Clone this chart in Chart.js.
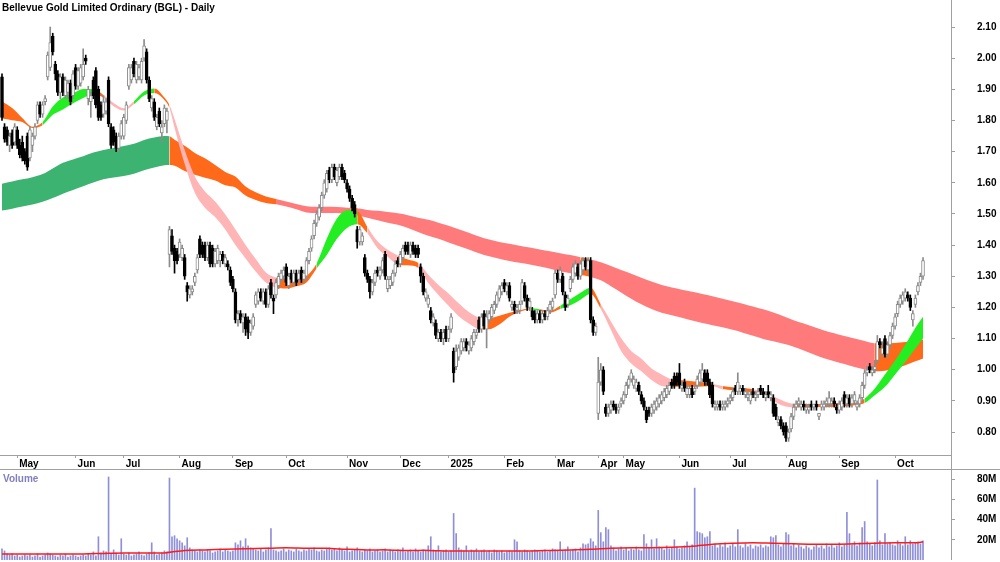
<!DOCTYPE html>
<html>
<head>
<meta charset="utf-8">
<script src="https://cdn.jsdelivr.net/npm/chart.js@4.4.1/dist/chart.umd.min.js"></script>
<style>
  html, body { margin:0; padding:0; background:#fff; }
  #stage { position:relative; width:1000px; height:562px; overflow:hidden; background:#fff; }
  canvas { position:absolute; left:0; }
  #priceCanvas { top:0; }
  #volCanvas { top:470px; }
  .lbl { position:absolute; white-space:nowrap; font-weight:bold; }
  #title { left:2px; color:#000; }
  #volTitle { left:3px; color:#8080c0; }
  .rule { position:absolute; background:#a0a0a0; }
</style>
</head>
<body>
<div id="stage">
  <canvas id="priceCanvas" width="1000" height="470"></canvas>
  <canvas id="volCanvas" width="1000" height="90"></canvas>
  <div class="rule" style="left:0;top:469px;width:1000px;height:1px"></div>
  <div class="rule" style="left:951px;top:455px;width:1px;height:15px"></div>
  <div id="title" class="lbl"></div>
  <div id="volTitle" class="lbl"></div>
</div>
<script>
// ---------------- DATA ----------------
const chartTitle = 'Bellevue Gold Limited Ordinary (BGL) - Daily';
const volumeTitle = 'Volume';
const monthLabels = ['May','Jun','Jul','Aug','Sep','Oct','Nov','Dec','2025','Feb','Mar','Apr','May','Jun','Jul','Aug','Sep','Oct'];
const monthIdx = [6,29,48,70,91,112,136,157,176,198,218,235,245,267,287,309,330,352];
const priceTicks = [0.8,0.9,1.0,1.1,1.2,1.3,1.4,1.5,1.6,1.7,1.8,1.9,2.0,2.1];
const volTicks = [20,40,60,80];

// daily OHLC in cents, one entry per trading day
const opens = [
194,178,177,172,176,173,177,172,173,170,
175,168,172,175,180,185,182,186,194,197,
207,198,195,189,194,188,189,192,188,197,
191,192,194,200,187,186,193,196,190,185,
182,183,193,178,177,175,171,175,175,180,
191,193,199,193,194,193,200,202,193,184,
186,178,183,176,179,180,137,143,139,138,
137,136,136,127,124,125,128,132,142,140,
140,136,140,139,134,135,135,137,134,134,
132,129,125,116,118,115,117,116,112,114,
121,122,125,122,125,121,128,123,124,127,
129,130,133,127,131,128,131,129,132,129,
130,135,139,143,147,149,152,156,158,164,
161,165,160,162,165,163,160,158,155,153,
145,141,141,136,131,129,125,128,132,130,
132,137,126,127,128,131,135,134,136,140,
140,137,140,139,139,133,130,123,121,119,
115,115,110,112,110,113,110,113,106,101,
104,106,107,109,106,107,109,111,116,113,
118,113,116,117,119,121,123,125,128,125,
127,120,121,119,119,122,127,123,120,119,
118,116,118,116,118,117,119,120,124,131,
129,130,124,121,126,129,131,133,130,132,
135,132,135,116,112,86,96,100,88,86,
87,89,88,87,89,90,92,95,97,95,
94,95,92,90,87,87,86,87,88,89,
90,91,92,93,96,98,98,99,94,96,
92,92,94,93,95,96,97,99,99,96,
95,88,88,89,88,88,89,90,91,94,
93,93,94,92,91,90,93,91,92,94,
93,91,93,91,91,88,83,84,82,82,
78,81,85,88,89,88,89,87,87,89,
88,89,85,88,88,89,89,89,90,88,
87,88,92,89,91,89,90,88,89,91,
95,99,101,99,100,103,109,105,110,105,
108,111,114,118,121,122,123,124,123,116,
121,125,128,130];
const highs = [
195,179,178,176,177,179,178,174,175,171,
176,178,176,179,186,186,186,188,202,210,
208,199,196,195,195,194,193,193,196,198,
197,198,203,201,191,189,194,197,191,186,
188,187,194,179,178,176,176,180,182,186,
198,198,200,199,198,200,206,203,194,188,
187,182,184,180,185,184,146,145,140,139,
142,140,137,128,127,127,131,137,143,141,
141,141,141,140,139,140,138,138,137,135,
133,130,126,119,119,118,118,117,116,118,
125,126,126,126,126,127,129,124,129,131,
132,133,134,131,132,132,132,132,133,132,
136,139,143,148,151,153,157,161,164,165,
166,166,165,166,166,164,161,159,156,154,
146,146,144,137,132,130,129,132,133,133,
136,138,130,130,132,135,136,138,140,141,
141,141,141,140,140,134,131,126,124,120,
118,116,113,113,113,114,114,118,107,108,
108,110,110,110,109,111,113,113,117,118,
119,119,119,121,122,125,127,128,129,128,
128,122,122,121,122,129,128,124,123,120,
119,119,119,119,119,120,122,123,132,132,
133,131,125,124,130,134,135,134,135,136,
136,136,136,117,115,104,102,101,89,89,
90,90,89,89,91,93,96,98,100,98,
97,96,93,91,88,88,89,90,91,92,
93,94,95,96,97,99,99,102,96,97,
95,95,95,95,98,100,102,100,100,97,
96,90,90,90,90,90,91,92,94,95,
99,95,95,94,93,93,94,93,94,95,
94,93,95,93,92,89,85,85,83,83,
81,86,89,90,91,90,90,89,89,90,
89,90,86,90,90,91,93,91,91,89,
90,91,93,92,92,92,93,90,92,96,
100,101,102,101,103,111,110,109,111,109,
112,115,118,122,124,125,126,125,124,119,
124,128,131,136];
const lows = [
180,173,172,170,171,172,171,168,167,166,
164,167,170,174,179,181,181,185,193,196,
201,193,188,187,188,187,187,185,187,190,
190,191,193,198,185,181,187,184,180,180,
181,182,178,171,172,170,170,174,174,179,
190,192,194,192,193,192,199,192,186,183,
180,177,178,173,178,176,133,137,131,134,
136,135,129,122,123,124,127,131,136,136,
135,135,133,133,133,134,133,134,133,132,
127,125,115,114,115,112,111,110,111,113,
120,121,122,121,120,120,123,118,123,126,
128,129,127,126,128,127,127,128,128,128,
129,134,138,142,146,148,151,155,157,160,
160,161,159,161,161,160,157,154,151,149,
139,140,140,130,128,123,124,127,130,129,
131,129,125,126,127,130,133,133,135,137,
137,136,137,136,136,128,124,122,120,115,
114,110,109,109,108,109,109,112,96,100,
103,105,106,106,105,106,108,110,112,112,
113,107,115,116,118,120,122,124,125,124,
122,119,118,118,118,121,122,119,119,116,
115,115,115,115,116,116,118,119,123,128,
128,124,119,120,125,128,130,129,129,131,
132,131,115,111,111,84,95,92,85,85,
86,87,86,86,88,89,91,94,96,94,
93,92,89,87,83,85,85,86,87,88,
89,90,91,92,94,94,95,94,93,93,
91,91,91,92,94,95,96,95,95,91,
88,87,87,87,87,87,88,89,90,92,
92,92,92,91,90,89,91,90,91,92,
91,90,91,90,85,84,82,81,79,77,
77,80,84,87,88,87,87,86,86,87,
87,87,84,87,87,88,88,88,88,86,
86,87,88,88,88,88,89,87,88,90,
94,98,99,98,99,102,107,104,104,104,
107,110,113,117,120,121,122,122,119,114,
120,124,127,129];
const closes = [
181,174,173,175,172,178,172,169,168,167,
165,177,175,178,185,182,185,187,201,205,
202,195,189,194,189,193,192,186,195,191,
196,197,198,199,190,188,188,185,181,181,
186,186,179,172,173,171,175,179,181,185,
197,197,195,198,197,199,204,193,187,187,
181,181,179,178,184,183,145,138,135,135,
141,139,130,125,126,126,130,136,137,137,
136,140,134,134,138,139,137,135,136,133,
128,126,116,118,116,117,113,112,115,117,
124,125,123,125,121,126,124,122,128,130,
131,132,128,130,129,131,128,131,129,131,
135,138,142,147,150,152,156,160,163,161,
165,162,164,165,162,161,158,155,152,150,
141,145,143,131,129,125,128,131,131,132,
135,130,129,129,131,134,134,137,139,138,
138,140,138,137,137,130,125,125,123,116,
117,111,112,110,112,110,113,117,99,106,
107,109,109,107,108,110,112,112,113,117,
114,117,118,120,121,124,126,127,126,127,
123,121,119,120,121,128,123,120,122,117,
116,118,116,118,117,119,121,122,131,129,
132,125,120,123,129,133,134,130,134,135,
133,135,116,112,114,96,100,93,86,88,
89,88,87,88,90,92,95,97,99,97,
96,93,90,88,84,86,88,89,90,91,
92,93,94,95,95,95,96,95,95,94,
94,94,92,94,97,99,100,96,96,92,
89,89,89,88,89,89,90,91,93,93,
96,94,93,93,92,92,92,92,93,93,
92,92,92,92,86,85,84,82,80,78,
80,85,88,89,90,89,88,88,88,88,
89,88,86,89,89,90,91,90,89,87,
89,90,89,91,89,91,92,89,91,95,
99,100,100,100,101,109,108,107,105,108,
111,114,117,121,123,124,125,123,120,118,
123,127,130,135];

// daily volume, millions of shares
const volume = [
11,9,6,5,6,4,5,3,4,5,
4,5,3,4,6,3,4,5,7,6,
5,4,3,5,4,6,3,4,5,4,
3,4,5,4,6,5,8,4,23,7,
9,8,82,6,10,7,5,21,6,5,
7,4,5,6,8,5,4,6,7,17,
8,5,6,7,9,8,81,23,24,21,
19,17,14,22,12,10,9,8,10,9,
8,10,9,7,8,9,11,8,10,9,
8,9,17,15,19,13,21,14,12,11,
10,9,11,8,10,12,31,10,9,8,
9,11,8,10,9,8,11,9,8,10,
9,11,10,12,9,8,10,9,11,12,
10,11,9,12,10,9,13,8,9,10,
12,9,8,10,9,11,8,9,10,8,
9,11,8,10,9,8,10,9,12,8,
9,10,8,11,9,8,10,9,14,23,
10,9,14,8,9,10,8,9,46,26,
12,10,9,14,8,10,9,11,8,9,
10,8,9,7,10,9,8,9,7,8,
9,8,20,18,9,8,10,9,8,9,
10,9,8,9,10,8,9,11,10,9,
18,9,10,13,9,10,11,8,12,16,
15,16,21,18,14,49,27,18,32,30,
14,12,9,11,13,10,12,9,11,10,
13,10,9,25,16,12,20,11,21,13,
12,10,14,11,12,20,13,11,12,14,
18,13,15,71,28,27,26,22,23,28,
14,16,12,15,13,17,12,14,16,13,
30,14,12,16,13,15,11,14,13,15,
12,14,13,23,22,24,15,13,16,27,
25,14,16,12,15,13,11,14,12,10,
13,15,12,14,11,16,13,15,12,14,
17,13,15,47,26,15,18,14,17,32,
38,18,16,14,17,79,19,15,26,16,
17,15,14,19,16,14,23,15,19,16,
17,18,16,19];

// volume moving average (millions), read at these trading-day indices
const volMaIdx = [0,8,16,24,32,40,48,56,64,72,80,88,96,104,112,120,128,136,144,152,160,168,176,184,192,200,208,216,224,232,240,248,256,264,272,280,288,296,304,312,320,328,336,344,352,360,363];
const volMa = [6,6,6,6,6,6.5,7,7,7,9.5,10,10.5,11,11.5,12,11.5,11.5,10.5,10,10,9.5,9.5,9,9,9,9,9,9.5,10,10.5,11.5,12,12,12.5,13.5,15.5,16.5,17,16.5,16,15.5,15.5,16,16.5,17,17,18];

// moving-average ribbons (upper / lower edge), read at these trading-day indices
const bandIdx = [0,4,8,12,16,20,24,28,32,36,
 40,44,48,52,56,60,64,66,68,72,
 76,80,84,88,92,96,100,104,108,112,
 116,120,124,128,132,136,140,144,148,152,
 156,160,164,168,172,176,180,184,188,192,
 196,200,204,208,212,216,220,224,228,232,
 236,240,244,248,252,256,260,264,268,272,
 276,280,284,288,292,296,300,304,308,312,
 316,320,324,328,332,336,340,344,348,352,
 356,360,363];
const longHi = [1.597,1.604,1.611,1.618,1.628,1.646,1.664,1.675,1.685,1.697,
 1.705,1.712,1.718,1.725,1.737,1.745,1.750,1.749,1.738,1.719,
 1.696,1.679,1.657,1.635,1.620,1.588,1.570,1.556,1.548,1.540,
 1.532,1.525,1.523,1.523,1.522,1.520,1.518,1.513,1.510,1.506,
 1.502,1.496,1.488,1.481,1.472,1.462,1.451,1.440,1.428,1.418,
 1.410,1.404,1.398,1.392,1.386,1.380,1.374,1.368,1.361,1.354,
 1.345,1.333,1.320,1.308,1.295,1.283,1.272,1.264,1.257,1.250,
 1.243,1.236,1.228,1.220,1.212,1.203,1.194,1.184,1.172,1.159,
 1.148,1.137,1.126,1.117,1.108,1.100,1.092,1.085,1.085,1.086,
 1.089,1.094,1.097];
const longLo = [1.511,1.517,1.524,1.530,1.539,1.551,1.565,1.577,1.589,1.601,
 1.611,1.617,1.622,1.629,1.640,1.649,1.656,1.657,1.655,1.638,
 1.626,1.616,1.607,1.592,1.585,1.559,1.545,1.535,1.531,1.524,
 1.515,1.505,1.503,1.503,1.503,1.499,1.495,1.488,1.480,1.472,
 1.465,1.455,1.442,1.430,1.420,1.408,1.397,1.386,1.374,1.364,
 1.356,1.349,1.343,1.338,1.331,1.324,1.316,1.310,1.304,1.298,
 1.287,1.268,1.248,1.228,1.210,1.195,1.183,1.175,1.167,1.158,
 1.150,1.143,1.136,1.128,1.119,1.109,1.099,1.091,1.083,1.074,
 1.062,1.049,1.037,1.027,1.018,1.009,1.001,0.995,0.997,1.003,
 1.014,1.027,1.036];
const shortHi = [1.861,1.840,1.808,1.780,1.795,1.845,1.874,1.887,1.901,1.900,
 1.882,1.856,1.839,1.862,1.893,1.903,1.874,1.850,1.805,1.705,
 1.620,1.572,1.540,1.498,1.450,1.400,1.355,1.312,1.296,1.292,
 1.295,1.302,1.341,1.420,1.485,1.512,1.510,1.458,1.412,1.385,
 1.367,1.354,1.343,1.305,1.272,1.245,1.213,1.185,1.168,1.166,
 1.173,1.183,1.190,1.197,1.194,1.189,1.205,1.226,1.247,1.263,
 1.210,1.155,1.102,1.060,1.035,1.004,0.985,0.969,0.966,0.963,
 0.960,0.954,0.948,0.944,0.941,0.937,0.928,0.915,0.900,0.891,
 0.890,0.890,0.891,0.892,0.892,0.893,0.908,0.940,0.985,1.030,
 1.080,1.135,1.170];
const shortLo = [1.806,1.801,1.795,1.776,1.785,1.818,1.835,1.855,1.872,1.884,
 1.873,1.846,1.832,1.852,1.880,1.888,1.866,1.840,1.777,1.660,
 1.568,1.520,1.490,1.450,1.400,1.357,1.315,1.280,1.264,1.261,
 1.268,1.280,1.325,1.368,1.420,1.455,1.467,1.438,1.390,1.363,
 1.338,1.335,1.327,1.278,1.240,1.205,1.172,1.148,1.131,1.130,
 1.145,1.170,1.185,1.193,1.189,1.183,1.195,1.207,1.225,1.243,
 1.195,1.128,1.060,1.020,0.995,0.967,0.948,0.945,0.945,0.945,
 0.946,0.948,0.937,0.934,0.931,0.927,0.917,0.900,0.884,0.879,
 0.880,0.880,0.880,0.881,0.883,0.886,0.893,0.918,0.945,0.985,
 1.025,1.068,1.101];
// ribbon state runs (count of ribbon samples): G rising, O mixed, R/P falling
const longRuns = [['G',17],['O',11],['R',30],['O',1],['R',28],['O',6]];
const shortRuns = [['O',4],['G',5],['O',1],['P',3],['G',2],['O',2],['P',11],['O',4],['G',4],['O',1],['P',3],['O',2],['P',6],['O',5],['G',1],['O',2],['G',3],['O',1],['P',7],['O',4],['P',1],['O',3],['P',4],['O',7],['G',7]];

// ---------------- STYLE ----------------
const LONG_COL = { G:'#3cb371', O:'#ff6a1a', R:'#ff7a7a' };
const SHORT_COL = { G:'#22ee22', O:'#ff6a1a', P:'#ffb5b5' };
const AX = '#a0a0a0';

function hasFont(name){
  const ctx = document.createElement('canvas').getContext('2d');
  const s = 'Bellevue Gold 2.10 May';
  ctx.font = 'bold 40px monospace'; const a = ctx.measureText(s).width;
  ctx.font = 'bold 40px "' + name + '", monospace'; const b = ctx.measureText(s).width;
  return Math.abs(a - b) > 0.5;
}
const NARROW = hasFont('Liberation Sans Narrow');
const FAMILY = NARROW ? '"Liberation Sans Narrow", "Arial Narrow", "Liberation Sans", Arial, sans-serif'
                      : '"Liberation Sans", Arial, sans-serif';
const FSIZE = NARROW ? 12 : 10;
const FONT = { family: FAMILY, size: FSIZE, weight: 'bold' };

// text labels
const tEl = document.getElementById('title');
const vEl = document.getElementById('volTitle');
[tEl, vEl].forEach(el => { el.style.fontFamily = FAMILY; el.style.fontSize = FSIZE + 'px'; el.style.lineHeight = FSIZE + 'px'; });
tEl.textContent = chartTitle;
vEl.textContent = volumeTitle;
const baseOff = FSIZE * 0.8465;
tEl.style.top = (11.7 - baseOff) + 'px';
vEl.style.top = (482.3 - baseOff) + 'px';

Chart.defaults.font.family = FAMILY;
Chart.defaults.font.size = FSIZE;
Chart.defaults.font.weight = 'bold';
Chart.defaults.color = '#000';

// ---------------- BUILD ----------------
const X_MIN = -0.79, X_MAX = 374.03;
const up = closes.map((c, i) => c >= opens[i]);
const bodyPts = closes.map((c, i) => ({ x: i, y: [opens[i] / 100, c / 100] }));
const wickPts = closes.map((c, i) => ({ x: i, y: [lows[i] / 100, highs[i] / 100] }));
function expandRuns(runs){ const out = []; runs.forEach(([s, n]) => { for (let k = 0; k < n; k++) out.push(s); }); return out; }
const longSt = expandRuns(longRuns);
const shortSt = expandRuns(shortRuns);
const bandPts = arr => bandIdx.map((x, k) => ({ x: x, y: arr[k] }));

function fixY(s){ s.width = 49; s.paddingTop = 0; s.paddingBottom = 0; }
function fixX(s){ s.height = 15; s.paddingLeft = 0; s.paddingRight = 0; }

const common = {
  responsive: false, animation: false, devicePixelRatio: 1, events: [],
  layout: { padding: 0, autoPadding: false },
  plugins: { legend: { display: false }, tooltip: { enabled: false }, title: { display: false } }
};

new Chart(document.getElementById('priceCanvas'), {
  type: 'bar',
  data: { datasets: [
    { type: 'bar', data: bodyPts, grouped: false, order: 0, barThickness: 3,
      backgroundColor: up.map(u => u ? '#ffffff' : '#000000'),
      borderColor: up.map(u => u ? '#8c8c8c' : '#000000'),
      borderWidth: 1, borderSkipped: false },
    { type: 'bar', data: wickPts, grouped: false, order: 1, barThickness: 1,
      backgroundColor: up.map(u => u ? '#8c8c8c' : '#000000'), borderWidth: 0 },
    { type: 'line', data: bandPts(longLo), order: 21, borderWidth: 0, borderColor: 'rgba(0,0,0,0)',
      pointRadius: 0, fill: false, cubicInterpolationMode: 'monotone' },
    { type: 'line', data: bandPts(longHi), order: 20, borderWidth: 0, borderColor: 'rgba(0,0,0,0)',
      pointRadius: 0, fill: 2, backgroundColor: LONG_COL.G, cubicInterpolationMode: 'monotone',
      segment: { backgroundColor: c => LONG_COL[longSt[c.p0DataIndex]] } },
    { type: 'line', data: bandPts(shortLo), order: 11, borderWidth: 0, borderColor: 'rgba(0,0,0,0)',
      pointRadius: 0, fill: false, cubicInterpolationMode: 'monotone' },
    { type: 'line', data: bandPts(shortHi), order: 10, borderWidth: 0, borderColor: 'rgba(0,0,0,0)',
      pointRadius: 0, fill: 4, backgroundColor: SHORT_COL.O, cubicInterpolationMode: 'monotone',
      segment: { backgroundColor: c => SHORT_COL[shortSt[c.p0DataIndex]] } }
  ]},
  options: Object.assign({}, common, {
    scales: {
      x: { type: 'linear', min: X_MIN, max: X_MAX, offset: false,
        afterBuildTicks: s => { s.ticks = monthIdx.map(v => ({ value: v })); },
        afterFit: fixX,
        grid: { offset: false, drawOnChartArea: false, drawTicks: true, tickLength: 3, color: AX },
        border: { display: true, color: AX },
        ticks: { autoSkip: false, maxRotation: 0, minRotation: 0, align: 'start', padding: 0, labelOffset: 2,
          color: '#000', font: FONT, callback: (v, i) => monthLabels[i] } },
      y: { type: 'linear', position: 'right', min: 0.7263, max: 2.1867,
        afterBuildTicks: s => { s.ticks = priceTicks.map(v => ({ value: v })); },
        afterFit: fixY,
        grid: { drawOnChartArea: false, drawTicks: true, tickLength: 4, color: AX },
        border: { display: true, color: AX },
        ticks: { padding: 22, color: '#000', font: FONT, callback: v => Number(v).toFixed(2) } }
    }
  })
});

new Chart(document.getElementById('volCanvas'), {
  type: 'bar',
  data: { datasets: [
    { type: 'line', data: volMaIdx.map((x, k) => ({ x: x, y: volMa[k] })), order: 0,
      borderColor: '#ff1a1a', borderWidth: 1.5, pointRadius: 0, fill: false, tension: 0.3 },
    { type: 'bar', data: volume.map((v, i) => ({ x: i, y: v })), order: 1, grouped: false,
      barThickness: 1, backgroundColor: '#8f8fd8', borderWidth: 0 }
  ]},
  options: Object.assign({}, common, {
    scales: {
      x: { type: 'linear', min: X_MIN, max: X_MAX, offset: false, display: false, grid: { offset: false } },
      y: { type: 'linear', position: 'right', min: 0, max: 88.9,
        afterBuildTicks: s => { s.ticks = volTicks.map(v => ({ value: v })); },
        afterFit: fixY,
        grid: { drawOnChartArea: false, drawTicks: true, tickLength: 4, color: AX },
        border: { display: true, color: AX },
        ticks: { padding: 22, color: '#000', font: FONT, callback: v => v + 'M' } }
    }
  })
});
</script>
</body>
</html>
